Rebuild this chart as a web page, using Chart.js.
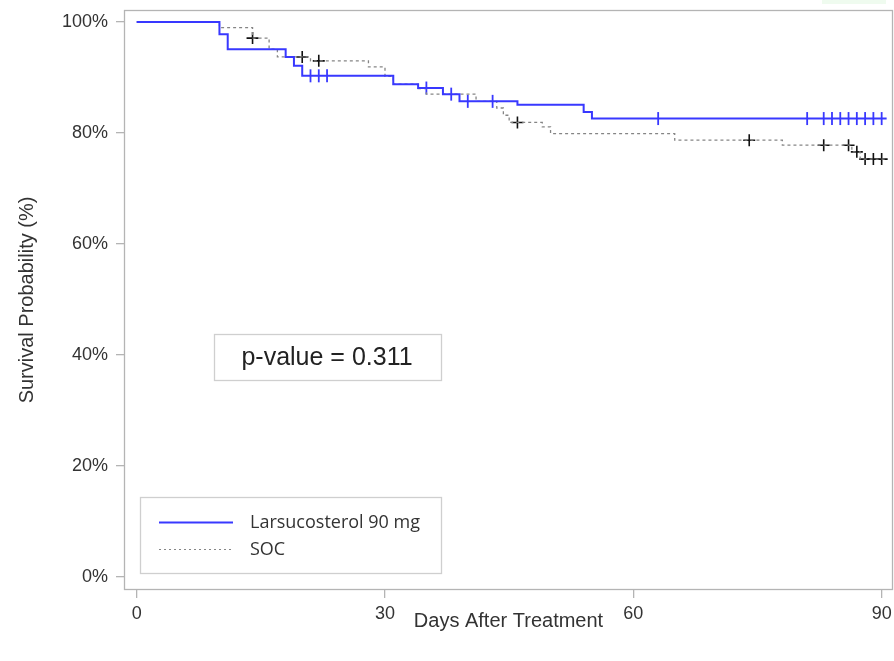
<!DOCTYPE html>
<html>
<head>
<meta charset="utf-8">
<script src="https://cdn.jsdelivr.net/npm/chart.js@4.4.1/dist/chart.umd.min.js"></script>
<style>
  html, body { margin: 0; padding: 0; background: #fff; }
  #wrap { position: relative; width: 894px; height: 661px; }
  #flag { position: absolute; left: 822px; top: 0; width: 64px; height: 4px; background: #effbef; }
</style>
</head>
<body>
<div id="wrap">
  <canvas id="kmChart" width="894" height="661"></canvas>
  <div id="flag"></div>
</div>
<script>
// Kaplan-Meier steps (day, survival %)
const larsDays = [0, 10, 11, 18, 19, 20, 31, 34, 37, 39, 46, 54, 55, 90.6];
const larsSurv = [100, 97.8, 95.1, 93.7, 92.1, 90.3, 88.8, 88.1, 87.0, 85.7, 85.1, 83.8, 82.6, 82.6];
const larsCensorDays = [21, 22, 23, 35, 38, 40, 43, 63, 81, 83, 84, 85, 86, 87, 88, 89, 90];
const larsCensorSurv = [90.3, 90.3, 90.3, 88.1, 87.0, 85.7, 85.7, 82.6, 82.6, 82.6, 82.6, 82.6, 82.6, 82.6, 82.6, 82.6, 82.6];

const socDays = [0, 10, 14, 16, 17, 21, 28, 30, 31, 34, 35, 41, 43.5, 44.3, 45, 49, 50, 65, 78, 86.4, 87.4, 90.6];
const socSurv = [100, 99.0, 97.1, 95.1, 93.7, 93.0, 91.9, 90.2, 88.8, 88.0, 87.0, 85.7, 84.5, 83.2, 81.9, 81.1, 79.9, 78.7, 77.8, 76.6, 75.3, 75.3];
const socCensorDays = [14, 20, 22, 46, 74, 83, 86, 87, 88, 89, 90];
const socCensorSurv = [97.1, 93.7, 93.0, 81.9, 78.7, 77.8, 77.8, 76.6, 75.3, 75.3, 75.3];

const seriesNames = ['Larsucosterol 90 mg', 'SOC'];
const xTicks = [0, 30, 60, 90];
const yTicks = [0, 20, 40, 60, 80, 100];
const pValueText = 'p-value = 0.311';

const BLUE = '#3838ff';
const GREY = '#858585';
const FRAME = '#b4b4b4';
const TEXT = '#333333';

const toPoints = (xs, ys) => xs.map((x, i) => ({ x: x, y: ys[i] }));

// frame around plot area + p-value box + legend box
const boxesPlugin = {
    id: 'boxes',
    beforeDatasetsDraw(chart) {
        const { ctx, chartArea: a } = chart;
        ctx.save();
        ctx.strokeStyle = FRAME;
        ctx.lineWidth = 1.3;
        ctx.strokeRect(a.left + 0.5, a.top + 0.5, a.right - a.left - 1, a.bottom - a.top - 1);
        ctx.restore();
    },
    afterDraw(chart) {
        const ctx = chart.ctx;
        ctx.save();
        // p-value box
        ctx.strokeStyle = '#cfcfcf';
        ctx.lineWidth = 1.3;
        ctx.strokeRect(214.5, 334.5, 227, 46);
        ctx.fillStyle = '#222';
        ctx.font = '25px "Liberation Sans", Arial, sans-serif';
        ctx.textAlign = 'center';
        ctx.textBaseline = 'middle';
        ctx.fillText(pValueText, 327, 358);

        // legend box
        ctx.strokeRect(140.5, 497.5, 301, 76);
        ctx.lineWidth = 2;
        ctx.strokeStyle = BLUE;
        ctx.beginPath();
        ctx.moveTo(159, 522.5);
        ctx.lineTo(233, 522.5);
        ctx.stroke();
        ctx.lineWidth = 1.2;
        ctx.strokeStyle = GREY;
        ctx.setLineDash([2, 3]);
        ctx.beginPath();
        ctx.moveTo(159, 549.5);
        ctx.lineTo(233, 549.5);
        ctx.stroke();
        ctx.setLineDash([]);
        ctx.fillStyle = '#333';
        ctx.font = '18px "Open Sans", sans-serif';
        ctx.textAlign = 'left';
        ctx.fillText(chart.data.datasets[0].label, 250, 523);
        ctx.fillText(chart.data.datasets[1].label, 250, 550);
        ctx.restore();
    }
};

const ctx = document.getElementById('kmChart').getContext('2d');

new Chart(ctx, {
    type: 'line',
    data: {
        datasets: [
            {
                label: seriesNames[0],
                data: toPoints(larsDays, larsSurv),
                borderColor: BLUE,
                borderWidth: 2,
                stepped: 'before',
                pointRadius: 0,
                fill: false
            },
            {
                label: seriesNames[1],
                data: toPoints(socDays, socSurv),
                borderColor: GREY,
                borderWidth: 1.3,
                borderDash: [3, 3],
                stepped: 'before',
                pointRadius: 0,
                fill: false
            },
            {
                label: seriesNames[0] + ' censored',
                data: toPoints(larsCensorDays, larsCensorSurv),
                showLine: false,
                pointStyle: 'line',
                rotation: 90,
                pointRadius: 6.5,
                borderColor: BLUE,
                pointBorderWidth: 1.8
            },
            {
                label: seriesNames[1] + ' censored',
                data: toPoints(socCensorDays, socCensorSurv),
                showLine: false,
                pointStyle: 'cross',
                pointRadius: 6,
                borderColor: '#111',
                pointBorderWidth: 1.6
            }
        ]
    },
    options: {
        responsive: false,
        animation: false,
        layout: { autoPadding: false, padding: { top: 10, right: 1, left: 0, bottom: 0 } },
        plugins: {
            legend: { display: false },
            tooltip: { enabled: false }
        },
        scales: {
            x: {
                type: 'linear',
                min: -1.53,
                max: 91.37,
                afterBuildTicks: s => { s.ticks = xTicks.map(v => ({ value: v })); },
                afterFit: s => { s.height = 71; s.paddingLeft = 0; s.paddingRight = 0; },
                grid: { drawOnChartArea: false, drawTicks: true, tickLength: 8, color: FRAME, lineWidth: 1.3 },
                border: { display: false },
                ticks: {
                    color: TEXT,
                    padding: 5,
                    maxRotation: 0,
                    font: { family: '"Liberation Sans", Arial, sans-serif', size: 18 }
                },
                title: {
                    display: true,
                    text: 'Days After Treatment',
                    color: TEXT,
                    padding: { top: 0, bottom: 28 },
                    font: { family: '"Liberation Sans", Arial, sans-serif', size: 20 }
                }
            },
            y: {
                type: 'linear',
                min: -2.34,
                max: 102.16,
                afterBuildTicks: s => { s.ticks = yTicks.map(v => ({ value: v })); },
                afterFit: s => { s.width = 124; s.paddingTop = 0; s.paddingBottom = 0; },
                grid: { drawOnChartArea: false, drawTicks: true, tickLength: 8, color: FRAME, lineWidth: 1.3 },
                border: { display: false },
                ticks: {
                    color: TEXT,
                    padding: 8,
                    callback: v => v + '%',
                    font: { family: '"Liberation Sans", Arial, sans-serif', size: 18 }
                },
                title: {
                    display: true,
                    text: 'Survival Probability (%)',
                    color: TEXT,
                    padding: { top: 15, bottom: 0 },
                    font: { family: '"Liberation Sans", Arial, sans-serif', size: 20 }
                }
            }
        }
    },
    plugins: [boxesPlugin]
});
</script>
</body>
</html>
